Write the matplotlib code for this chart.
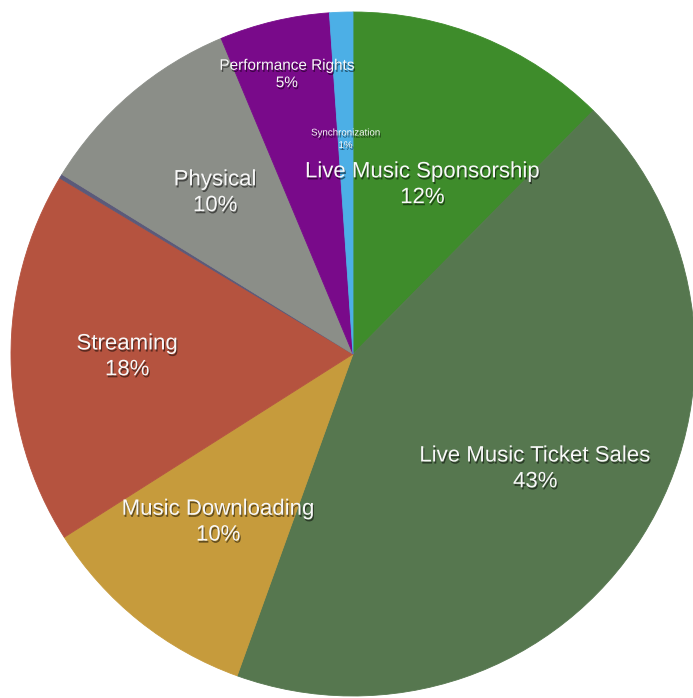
import numpy as np
import matplotlib
matplotlib.use('Agg')
import matplotlib.pyplot as plt
import matplotlib.patheffects as pe

# revenue share by source, clockwise from 12 o'clock
sources = ['Live Music Sponsorship', 'Live Music Ticket Sales', 'Music Downloading',
           'Streaming', 'Other', 'Physical', 'Performance Rights', 'Synchronization']
shares = [12.4, 43.1, 10.5, 17.6, 0.2, 9.9, 5.2, 1.1]
pct_labels = ['12%', '43%', '10%', '18%', '', '10%', '5%', '1%']

colors = ['#3e8c2b', '#56774f', '#c69b3c', '#b5533f', '#5b5a7a',
          '#8b8e88', '#790a8a', '#4cafe6']
label_r = [0.535, 0.63, 0.63, 0.66, 0.0, 0.62, 0.84, 0.63]
label_size = [16, 16, 16, 16, 0, 16, 11, 7]

plt.rcParams['font.family'] = ['Liberation Sans', 'DejaVu Sans']

fig = plt.figure(figsize=(6.93, 6.98), dpi=100)
ax = fig.add_axes([11 / 693, 2 / 698, 684 / 693, 684 / 698])

wedges, _ = ax.pie(shares, colors=colors, startangle=90, counterclock=False,
                   radius=1.0, wedgeprops=dict(linewidth=0.6))
for w in wedges:
    w.set_edgecolor(w.get_facecolor())

shadow = [pe.SimplePatchShadow(offset=(0.8, -1.5), shadow_rgbFace='black', alpha=0.5),
          pe.Normal()]
for w, name, pct, r, fs in zip(wedges, sources, pct_labels, label_r, label_size):
    if not pct:
        continue
    mid = np.deg2rad((w.theta1 + w.theta2) / 2)
    ax.text(r * np.cos(mid), r * np.sin(mid), name + '\n' + pct,
            ha='center', va='center', color='#f8f8f8', fontsize=fs,
            linespacing=1.3, path_effects=shadow)

ax.set_xlim(-1, 1)
ax.set_ylim(-1, 1)
ax.set_aspect('equal')
ax.axis('off')

fig.savefig('out.png', dpi=100, facecolor='white')
